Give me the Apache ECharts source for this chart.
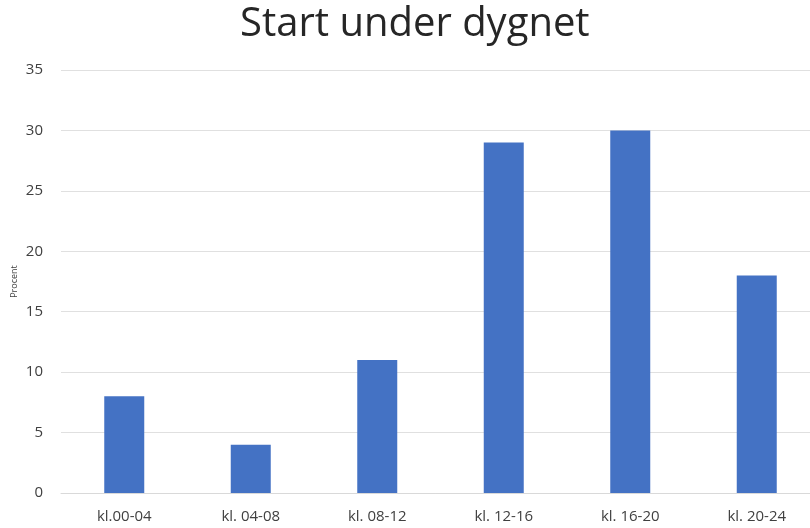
<!DOCTYPE html>
<html>
<head>
<meta charset="utf-8">
<script src="https://cdn.jsdelivr.net/npm/echarts@6/dist/echarts.min.js"></script>
<style>
  html, body { margin: 0; padding: 0; background: #fff; }
  #chart { width: 810px; height: 528px; }
</style>
</head>
<body>
<div id="chart"></div>
<script>
// Starttid per fyratimmarsintervall, i procent
const categories = ['kl.00-04', 'kl. 04-08', 'kl. 08-12', 'kl. 12-16', 'kl. 16-20', 'kl. 20-24'];
const values = [8, 4, 11, 29, 30, 18];

const chart = echarts.init(document.getElementById('chart'));
chart.setOption({
  animation: false,
  title: {
    text: 'Start under dygnet',
    left: 235,
    top: 0,
    textStyle: { fontFamily: 'Open Sans', fontSize: 40, fontWeight: 'normal', color: '#262626' }
  },
  grid: { left: 61, right: -10, top: 70, bottom: 35, outerBoundsMode: 'none', containLabel: false },
  xAxis: {
    type: 'category',
    data: categories,
    axisLine: { lineStyle: { color: '#d9d9d9', width: 1 } },
    axisTick: { show: false },
    axisLabel: { color: '#404040', fontFamily: 'Open Sans', fontSize: 15, margin: 16 }
  },
  yAxis: {
    type: 'value',
    min: 0,
    max: 35,
    interval: 5,
    name: 'Procent',
    nameLocation: 'middle',
    nameGap: 42,
    nameMoveOverlap: false,
    nameTextStyle: { fontFamily: 'Open Sans', fontSize: 9, color: '#404040' },
    axisLine: { show: false },
    axisTick: { show: false },
    axisLabel: { color: '#404040', fontFamily: 'Open Sans', fontSize: 15, margin: 18 },
    splitLine: { lineStyle: { color: '#e0e0e0', width: 1 } }
  },
  series: [{
    type: 'bar',
    data: values,
    barWidth: 40,
    itemStyle: { color: '#4472C4' }
  }]
});
</script>
</body>
</html>
